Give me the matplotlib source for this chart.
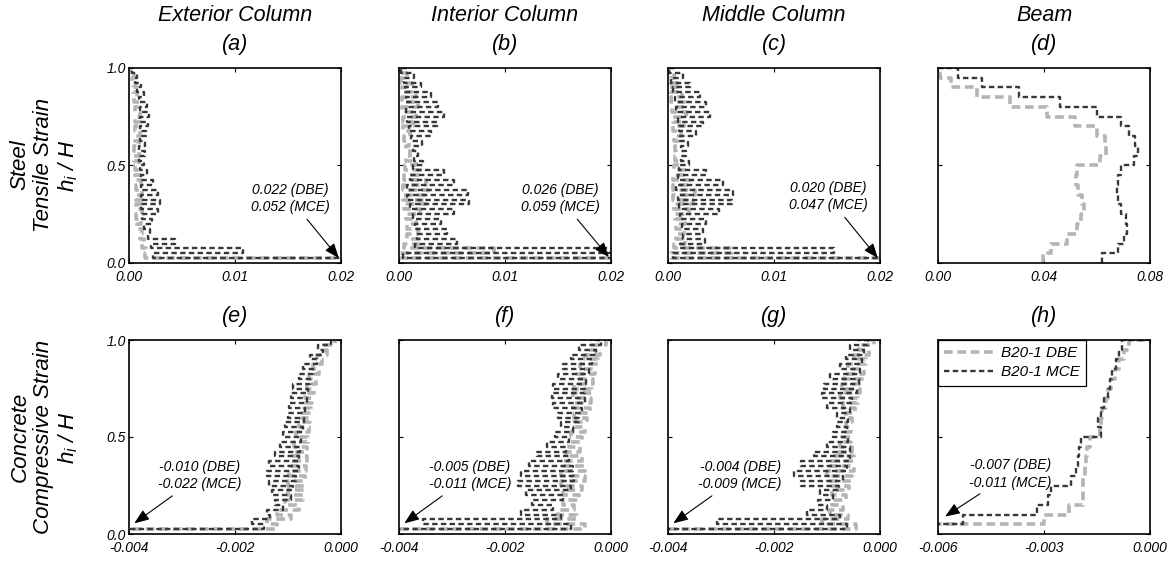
import numpy as np
import matplotlib.pyplot as plt

plt.rcParams['font.family'] = ['Liberation Sans', 'DejaVu Sans']
plt.rcParams['font.style'] = 'italic'
plt.rcParams['mathtext.fontset'] = 'custom'
plt.rcParams['mathtext.it'] = 'Liberation Sans:italic'
plt.rcParams['mathtext.rm'] = 'Liberation Sans:italic'

# ---- column strain profiles: outer (peak side) and inner ends of each pair of sections
# (a) exterior column, steel tensile strain
a_mce_out = [0.052, 0.0108, 0.0043, 0.0020, 0.0022, 0.0027, 0.0029, 0.0027, 0.0023, 0.0017, 0.0014,
             0.0015, 0.0015, 0.0016, 0.0018, 0.0019, 0.0017, 0.0014, 0.0011, 0.0008, 0.0003]
a_mce_in = [0.0023, 0.0021, 0.0018, 0.0014, 0.0012, 0.0011, 0.0011, 0.0011, 0.0011, 0.0010,
            0.0009, 0.0009, 0.0010, 0.0010, 0.0010, 0.0010, 0.0009, 0.0008, 0.0006, 0.0003]
a_dbe_out = [0.022, 0.0016, 0.0014, 0.0012, 0.0011, 0.0012, 0.0013, 0.0012, 0.0011, 0.0010, 0.0009,
             0.0009, 0.0009, 0.0010, 0.0010, 0.0010, 0.0009, 0.0008, 0.0007, 0.0005, 0.0002]
a_dbe_in = [0.0015, 0.0012, 0.0010, 0.0008, 0.0007, 0.0007, 0.0007, 0.0007, 0.0006, 0.0006,
            0.0005, 0.0005, 0.0006, 0.0006, 0.0006, 0.0006, 0.0005, 0.0004, 0.0003, 0.0001]

# (b) interior column, steel tensile strain
b_mce_out = [0.059, 0.021, 0.0055, 0.0045, 0.0040, 0.0052, 0.0066, 0.0065, 0.0052, 0.0042, 0.0023,
             0.0018, 0.0022, 0.0030, 0.0036, 0.0042, 0.0037, 0.0030, 0.0021, 0.0014, 0.0008]
b_mce_in = [0.0004, 0.0015, 0.0017, 0.0015, 0.0013, 0.0010, 0.0008, 0.0008, 0.0010, 0.0013,
            0.0014, 0.0013, 0.0011, 0.0009, 0.0008, 0.0007, 0.0007, 0.0006, 0.0005, 0.0002]
b_dbe_out = [0.026, 0.009, 0.0020, 0.0018, 0.0016, 0.0020, 0.0025, 0.0027, 0.0025, 0.0020, 0.0016,
             0.0010, 0.0009, 0.0010, 0.0013, 0.0016, 0.0018, 0.0016, 0.0012, 0.0008, 0.0004]
b_dbe_in = [0.0001, 0.0005, 0.0008, 0.0008, 0.0007, 0.0005, 0.0004, 0.0004, 0.0005, 0.0006,
            0.0007, 0.0007, 0.0005, 0.0004, 0.0004, 0.0003, 0.0003, 0.0003, 0.0002, 0.0001]

# (c) middle column, steel tensile strain
c_mce_out = [0.047, 0.0157, 0.0035, 0.0033, 0.0036, 0.0048, 0.0060, 0.0061, 0.0052, 0.0036, 0.0020,
             0.0017, 0.0019, 0.0026, 0.0033, 0.0040, 0.0036, 0.0030, 0.0021, 0.0014, 0.0007]
c_mce_in = [0.0005, 0.0011, 0.0014, 0.0013, 0.0011, 0.0010, 0.0009, 0.0008, 0.0009, 0.0010,
            0.0012, 0.0012, 0.0011, 0.0010, 0.0009, 0.0008, 0.0007, 0.0005, 0.0003, 0.0001]
c_dbe_out = [0.020, 0.006, 0.0016, 0.0015, 0.0016, 0.0020, 0.0024, 0.0025, 0.0021, 0.0016, 0.0010,
             0.0008, 0.0009, 0.0012, 0.0015, 0.0017, 0.0016, 0.0013, 0.0010, 0.0006, 0.0003]
c_dbe_in = [0.0003, 0.0006, 0.0008, 0.0008, 0.0007, 0.0006, 0.0005, 0.0005, 0.0005, 0.0006,
            0.0007, 0.0007, 0.0006, 0.0005, 0.0005, 0.0004, 0.0003, 0.0002, 0.0002, 0.0001]

# (e) exterior column, concrete compressive strain
e_mce_out = [-0.022, -0.00168, -0.0014, -0.00125, -0.0013, -0.00135, -0.0014, -0.00135, -0.00125,
             -0.00115, -0.0011, -0.00105, -0.0010, -0.00098, -0.00095, -0.0009, -0.0008, -0.00072,
             -0.00058, -0.00043, -0.00025]
e_mce_in = [-0.00146, -0.00134, -0.0011, -0.00095, -0.0009, -0.00085, -0.0008, -0.0008, -0.00078,
            -0.00075, -0.00072, -0.0007, -0.00068, -0.00065, -0.00062, -0.00058, -0.00052, -0.00045,
            -0.00034, -0.00018]
e_dbe_out = [-0.010, -0.0014, -0.0012, -0.00105, -0.0010, -0.0010, -0.00098, -0.00095, -0.0009,
             -0.00088, -0.00085, -0.0008, -0.00075, -0.0007, -0.00068, -0.00065, -0.0006, -0.00053,
             -0.00045, -0.00033, -0.00015]
e_dbe_in = [-0.0012, -0.00095, -0.0008, -0.00072, -0.0007, -0.00068, -0.00066, -0.00065, -0.00064,
            -0.00062, -0.0006, -0.00058, -0.00056, -0.00054, -0.00051, -0.00047, -0.00042, -0.00036,
            -0.00027, -0.00012]

# (f) interior column, concrete compressive strain
f_mce_out = [-0.011, -0.00355, -0.0017, -0.0015, -0.0016, -0.00175, -0.0017, -0.00155, -0.0014,
             -0.0012, -0.00105, -0.00095, -0.0010, -0.0011, -0.00112, -0.0011, -0.0010, -0.0009,
             -0.00075, -0.0006, -0.0004]
f_mce_in = [-0.00075, -0.00095, -0.0011, -0.0009, -0.00075, -0.0007, -0.00072, -0.0008, -0.00085,
            -0.0008, -0.00072, -0.0006, -0.00055, -0.0005, -0.0005, -0.00048, -0.00042, -0.00035,
            -0.00028, -0.00018]
f_dbe_out = [-0.005, -0.0012, -0.0010, -0.0009, -0.0009, -0.00095, -0.00095, -0.0009, -0.00085,
             -0.0008, -0.00075, -0.0007, -0.0007, -0.00072, -0.00072, -0.0007, -0.00065, -0.00058,
             -0.0005, -0.0004, -0.00025]
f_dbe_in = [-0.0005, -0.00065, -0.0007, -0.0006, -0.00055, -0.0005, -0.0005, -0.00055, -0.00058,
            -0.00055, -0.0005, -0.00045, -0.0004, -0.00038, -0.00036, -0.00034, -0.0003, -0.00025,
            -0.0002, -0.0001]

# (g) middle column, concrete compressive strain
g_mce_out = [-0.009, -0.00308, -0.00138, -0.00117, -0.00113, -0.0015, -0.00163, -0.0015, -0.00125,
             -0.0010, -0.00088, -0.00082, -0.00082, -0.0010, -0.0011, -0.00105, -0.00095, -0.00075,
             -0.00065, -0.00057, -0.00044]
g_mce_in = [-0.00063, -0.00075, -0.0010, -0.00088, -0.00078, -0.0007, -0.00063, -0.00057, -0.00057,
            -0.0006, -0.00063, -0.0006, -0.00057, -0.00052, -0.00044, -0.0004, -0.00038, -0.00034,
            -0.0003, -0.00022]
g_dbe_out = [-0.004, -0.0011, -0.00095, -0.0009, -0.0009, -0.00095, -0.0010, -0.00095, -0.00085,
             -0.00075, -0.0007, -0.00065, -0.00065, -0.0007, -0.00075, -0.00072, -0.00068, -0.0006,
             -0.0005, -0.0004, -0.0003]
g_dbe_in = [-0.00045, -0.0006, -0.0007, -0.00065, -0.00058, -0.00052, -0.0005, -0.0005, -0.00052,
            -0.00055, -0.00055, -0.00052, -0.00048, -0.00042, -0.00038, -0.00034, -0.0003, -0.00026,
            -0.0002, -0.00012]

# ---- beam strain per story (20 stories + roof)
d_mce = [0.062, 0.068, 0.070, 0.0715, 0.071, 0.069, 0.068, 0.0675, 0.068, 0.069, 0.074, 0.0753,
         0.0745, 0.072, 0.069, 0.060, 0.046, 0.0304, 0.0165, 0.0076, 0.0006]
d_dbe = [0.0396, 0.0425, 0.0487, 0.0525, 0.054, 0.055, 0.0545, 0.053, 0.052, 0.0525, 0.061, 0.0633,
         0.063, 0.060, 0.0518, 0.041, 0.027, 0.0146, 0.005, 0.0006, 0.0]
h_mce = [-0.011, -0.0053, -0.0032, -0.0029, -0.0028, -0.00225, -0.0021, -0.00204, -0.0020, -0.00195,
         -0.0014, -0.00147, -0.0014, -0.0013, -0.0012, -0.00113, -0.00107, -0.00097, -0.00088,
         -0.00078, -0.0001]
h_dbe = [-0.007, -0.0030, -0.0023, -0.0019, -0.0019, -0.0019, -0.00185, -0.0018, -0.00177, -0.0017,
         -0.00142, -0.0014, -0.00135, -0.00125, -0.0012, -0.0011, -0.00098, -0.00088, -0.00075,
         -0.0006, -0.0001]

col_titles = ['Exterior Column', 'Interior Column', 'Middle Column', 'Beam']
panel_tags = ['(a)', '(b)', '(c)', '(d)', '(e)', '(f)', '(g)', '(h)']
row_labels = ['Steel\nTensile Strain\n$h_i$ / $H$', 'Concrete\nCompressive Strain\n$h_i$ / $H$']
peak_labels = ['0.022 (DBE)\n0.052 (MCE)', '0.026 (DBE)\n0.059 (MCE)', '0.020 (DBE)\n0.047 (MCE)',
               '-0.010 (DBE)\n-0.022 (MCE)', '-0.005 (DBE)\n-0.011 (MCE)',
               '-0.004 (DBE)\n-0.009 (MCE)', '-0.007 (DBE)\n-0.011 (MCE)']
legend_labels = ['B20-1 DBE', 'B20-1 MCE']

section_levels = np.arange(1, 41) * 0.025   # 40 section heights
floor_levels = np.arange(0, 21) * 0.05      # 20 stories + roof

DBE_STYLE = dict(color='#b4b4b4', lw=2.6, dashes=(2.4, 1.3))
MCE_STYLE = dict(color='#383838', lw=1.7, dashes=(2.3, 1.4))


def column_path(outer, inner):
    x = np.empty(len(outer) + len(inner))
    x[0::2] = outer
    x[1::2] = inner
    return np.repeat(x, 2)[1:-1], np.repeat(section_levels, 2)


def beam_path(vals):
    return np.repeat(np.asarray(vals), 2)[:-1], np.repeat(floor_levels, 2)[1:]


fig = plt.figure(figsize=(11.75, 5.61), dpi=100)
lefts = [129, 399, 668, 938]
W, H = 1175, 561
axes = []
for r, (top, bot) in enumerate([(68, 263), (340, 534)]):
    for c, lx in enumerate(lefts):
        ax = fig.add_axes([lx / W, 1 - bot / H, 212 / W, (bot - top) / H])
        axes.append(ax)

col_data = [
    (a_dbe_out, a_dbe_in, a_mce_out, a_mce_in),
    (b_dbe_out, b_dbe_in, b_mce_out, b_mce_in),
    (c_dbe_out, c_dbe_in, c_mce_out, c_mce_in),
    (e_dbe_out, e_dbe_in, e_mce_out, e_mce_in),
    (f_dbe_out, f_dbe_in, f_mce_out, f_mce_in),
    (g_dbe_out, g_dbe_in, g_mce_out, g_mce_in),
]
col_axes = [axes[0], axes[1], axes[2], axes[4], axes[5], axes[6]]
for ax, (do, di, mo, mi) in zip(col_axes, col_data):
    ax.plot(*column_path(do, di), **DBE_STYLE)
    ax.plot(*column_path(mo, mi), **MCE_STYLE)

axes[3].plot(*beam_path(d_dbe), **DBE_STYLE)
axes[3].plot(*beam_path(d_mce), **MCE_STYLE)
axes[7].plot(*beam_path(h_dbe), label=legend_labels[0], **DBE_STYLE)
axes[7].plot(*beam_path(h_mce), label=legend_labels[1], **MCE_STYLE)

xlims = [(0, 0.02)] * 3 + [(0, 0.08)] + [(-0.004, 0)] * 3 + [(-0.006, 0)]
xticks = [[0, 0.01, 0.02]] * 3 + [[0, 0.04, 0.08]] + [[-0.004, -0.002, 0]] * 3 + [[-0.006, -0.003, 0]]
xfmt = ['{:.2f}'] * 4 + ['{:.3f}'] * 4

for i, ax in enumerate(axes):
    ax.set_xlim(*xlims[i])
    ax.set_ylim(0, 1.0)
    ax.set_xticks(xticks[i])
    ax.set_xticklabels([xfmt[i].format(v).replace('-0.000', '0.000') for v in xticks[i]])
    ax.set_yticks([0, 0.5, 1.0])
    if i % 4 == 0:
        ax.set_yticklabels(['0.0', '0.5', '1.0'])
    else:
        ax.set_yticklabels([])
    ax.tick_params(direction='in', top=True, right=True, length=3, width=0.8,
                   labelsize=10)
    ax.tick_params(axis='x', pad=5)
    ax.tick_params(axis='y', pad=2)
    for s in ax.spines.values():
        s.set_linewidth(1.2)
    ax.text(0.5, 1.066, panel_tags[i], transform=ax.transAxes, ha='center', va='bottom',
            fontsize=15.5)
    if i < 4:
        ax.text(0.5, 1.215, col_titles[i], transform=ax.transAxes, ha='center', va='bottom',
                fontsize=15.5)

# peak value callouts: (axes index, text position, arrow head)
callouts = [(0, (0.0152, 0.33), (0.0198, 0.025)),
            (1, (0.0152, 0.33), (0.0198, 0.03)),
            (2, (0.0151, 0.34), (0.0198, 0.025)),
            (4, (-0.00266, 0.30), (-0.0039, 0.055)),
            (5, (-0.00266, 0.30), (-0.0039, 0.055)),
            (6, (-0.00264, 0.30), (-0.0039, 0.055)),
            (7, (-0.00395, 0.31), (-0.0058, 0.09))]
for label, (idx, txt, head) in zip(peak_labels, callouts):
    axes[idx].annotate(label, xy=head, xytext=txt, ha='center', va='center', fontsize=10,
                       linespacing=1.3,
                       arrowprops=dict(arrowstyle='-|>,head_length=0.9,head_width=0.35',
                                       color='k', lw=0.8, shrinkA=2, shrinkB=0))

leg = axes[7].legend(loc='upper left', fontsize=11, handlelength=3.2, borderaxespad=0,
                     fancybox=False, edgecolor='k', framealpha=1, borderpad=0.4,
                     labelspacing=0.35, handletextpad=0.5)
leg.get_frame().set_linewidth(0.9)

for label, yc in zip(row_labels, [165, 437]):
    fig.text(45 / W, 1 - yc / H, label, rotation=90, ha='center', va='center',
             fontsize=16, multialignment='center', linespacing=1.15)

fig.savefig('out.png', dpi=100)
